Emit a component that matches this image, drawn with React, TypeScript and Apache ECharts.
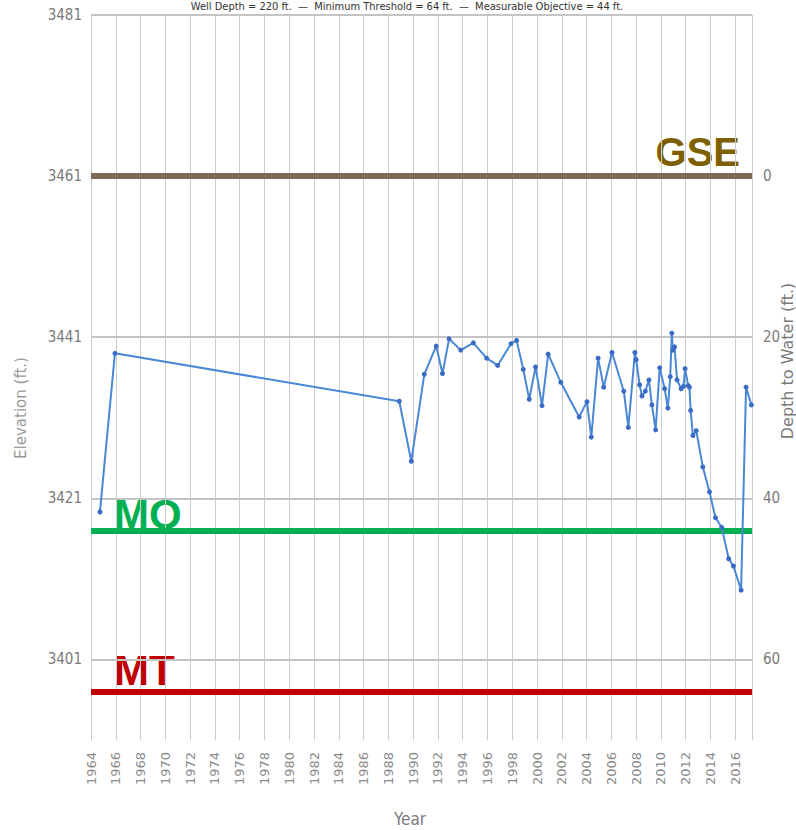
import React, { useEffect, useRef } from "react";
import * as echarts from "echarts";

// Measurement dates (decimal year) and groundwater elevation (ft.)
const years = [
  1964.72, 1965.93, 1988.88, 1989.85, 1990.9, 1991.86, 1992.37, 1992.9, 1993.84, 1994.86,
  1995.93, 1996.82, 1997.9, 1998.35, 1998.89, 1999.37, 1999.88, 2000.4, 2000.9, 2001.92,
  2003.4, 2004.03, 2004.38, 2004.93, 2005.38, 2006.05, 2007.0, 2007.37, 2007.9, 2008.0,
  2008.28, 2008.47, 2008.74, 2009.03, 2009.27, 2009.57, 2009.9, 2010.3, 2010.56, 2010.75,
  2010.88, 2010.96, 2011.1, 2011.3, 2011.63, 2011.82, 2011.95, 2012.2, 2012.3, 2012.4,
  2012.58, 2012.85, 2013.38, 2013.92, 2014.4, 2014.9, 2015.47, 2015.85, 2016.47, 2016.87,
  2017.3,
];
const elevations = [
  3419.3, 3439.0, 3433.05, 3425.6, 3436.4, 3439.9, 3436.5, 3440.8, 3439.4, 3440.3,
  3438.4, 3437.5, 3440.2, 3440.6, 3437.0, 3433.3, 3437.3, 3432.5, 3438.9, 3435.4,
  3431.1, 3433.0, 3428.6, 3438.4, 3434.8, 3439.1, 3434.3, 3429.8, 3439.1, 3438.2,
  3435.1, 3433.7, 3434.3, 3435.7, 3432.6, 3429.5, 3437.2, 3434.6, 3432.2, 3436.1,
  3441.5, 3439.4, 3439.8, 3435.7, 3434.6, 3434.9, 3437.1, 3435.0, 3434.8, 3431.9,
  3428.8, 3429.4, 3424.9, 3421.8, 3418.6, 3417.4, 3413.5, 3412.6, 3409.6, 3434.8,
  3432.6,
];

const elevationTicks = [3401, 3421, 3441, 3461, 3481];
const gridElevations = [3401, 3421, 3441, 3481];
const depthTicks = [0, 20, 40, 60];
const GSE = 3461;
const MO = 3417;
const MT = 3397;
const ELEV_MIN = 3391;
const ELEV_MAX = 3481;
const YEAR_MIN = 1964;
const YEAR_MAX = 2017.35;
const titleText =
  "Well Depth = 220 ft.  —  Minimum Threshold = 64 ft.  —  Measurable Objective = 44 ft.";

const narrow = "'Liberation Sans Narrow', 'DejaVu Sans Condensed', sans-serif";

export default function App() {
  const ref = useRef<HTMLDivElement>(null);
  useEffect(() => {
    document.body.style.margin = "0";
    const chart = echarts.init(ref.current!, null, { renderer: "svg" });
    const data = years.map((y, i) => [y, elevations[i]]);
    chart.setOption({
      animation: false,
      backgroundColor: "#ffffff",
      grid: { left: 91, right: 44, top: 15, bottom: 90, containLabel: false },
      xAxis: {
        type: "value",
        min: YEAR_MIN,
        max: YEAR_MAX,
        interval: 2,
        axisLine: { show: true, lineStyle: { color: "#cccccc", width: 1 } },
        axisTick: { show: false },
        splitLine: { show: true, lineStyle: { color: "#cccccc", width: 1 } },
        axisLabel: {
          rotate: 90,
          margin: 12,
          color: "#8a8a8a",
          fontSize: 13,
          fontFamily: "'DejaVu Sans', sans-serif",
          showMaxLabel: false,
          formatter: (v: number) =>
            Number.isInteger(v) && v % 2 === 0 ? String(v) : "",
        },
      },
      yAxis: [
        {
          type: "value",
          min: ELEV_MIN,
          max: ELEV_MAX,
          position: "left",
          axisLine: { show: true, lineStyle: { color: "#c8c8c8", width: 1 } },
          axisTick: { show: false },
          splitLine: { show: false },
          axisLabel: {
            customValues: elevationTicks,
            formatter: (v: number) => String(v),
            color: "#7a7a7a",
            fontSize: 15,
            fontFamily: narrow,
            margin: 9,
          },
        },
        {
          type: "value",
          min: GSE - ELEV_MAX,
          max: GSE - ELEV_MIN,
          inverse: true,
          position: "right",
          axisLine: { show: false },
          axisTick: { show: false },
          splitLine: { show: false },
          axisLabel: {
            customValues: depthTicks,
            formatter: (v: number) => String(v),
            color: "#7a7a7a",
            fontSize: 15,
            fontFamily: narrow,
            margin: 11,
          },
        },
      ],
      graphic: [
        {
          type: "text",
          x: 407,
          y: 1,
          style: {
            text: titleText,
            align: "center",
            verticalAlign: "top",
            fontSize: 11,
            fontFamily: narrow,
            fill: "#333333",
          },
        },
        {
          type: "text",
          x: 21,
          y: 408,
          rotation: Math.PI / 2,
          style: {
            text: "Elevation (ft.)",
            align: "center",
            verticalAlign: "middle",
            fontSize: 15,
            fontFamily: "'DejaVu Sans', sans-serif",
            fill: "#9a9a9a",
          },
        },
        {
          type: "text",
          x: 787,
          y: 361,
          rotation: Math.PI / 2,
          style: {
            text: "Depth to Water (ft.)",
            align: "center",
            verticalAlign: "middle",
            fontSize: 16,
            fontFamily: "'DejaVu Sans', sans-serif",
            fill: "#7a7a7a",
          },
        },
        {
          type: "text",
          x: 410,
          y: 819,
          style: {
            text: "Year",
            align: "center",
            verticalAlign: "middle",
            fontSize: 17,
            fontFamily: narrow,
            fill: "#7a7a7a",
          },
        },
        {
          type: "text",
          x: 740,
          y: 152,
          style: {
            text: "GSE",
            align: "right",
            verticalAlign: "middle",
            fontSize: 40,
            fontWeight: "bold",
            fontFamily: "'Liberation Sans', Arial, sans-serif",
            fill: "#7f6000",
          },
        },
        {
          type: "text",
          x: 114,
          y: 514,
          style: {
            text: "MO",
            align: "left",
            verticalAlign: "middle",
            fontSize: 42,
            fontWeight: "bold",
            fontFamily: "'Liberation Sans', Arial, sans-serif",
            fill: "#00b050",
          },
        },
        {
          type: "text",
          x: 114,
          y: 670,
          style: {
            text: "MT",
            align: "left",
            verticalAlign: "middle",
            fontSize: 42,
            fontWeight: "bold",
            fontFamily: "'Liberation Sans', Arial, sans-serif",
            fill: "#c00000",
          },
        },
      ],
      series: [
        {
          type: "line",
          yAxisIndex: 0,
          data: [],
          z: 1,
          silent: true,
          markLine: {
            silent: true,
            symbol: ["none", "none"],
            label: { show: false },
            data: [
              ...gridElevations.map((v) => ({
                yAxis: v,
                lineStyle: { color: "#c4c4c4", width: 2, type: "solid" },
              })),
              { yAxis: GSE, lineStyle: { color: "#7c6a56", width: 6, type: "solid" } },
              { yAxis: MO, lineStyle: { color: "#00b050", width: 6, type: "solid" } },
              { yAxis: MT, lineStyle: { color: "#c00000", width: 6, type: "solid" } },
            ],
          },
        },
        {
          type: "line",
          yAxisIndex: 0,
          z: 5,
          data,
          symbol: "circle",
          symbolSize: 5,
          showSymbol: true,
          lineStyle: { color: "#4a88d6", width: 2 },
          itemStyle: { color: "#3a6cc6" },
        },
      ],
    });
    return () => chart.dispose();
  }, []);
  return <div ref={ref} style={{ width: 796, height: 830 }} />;
}
